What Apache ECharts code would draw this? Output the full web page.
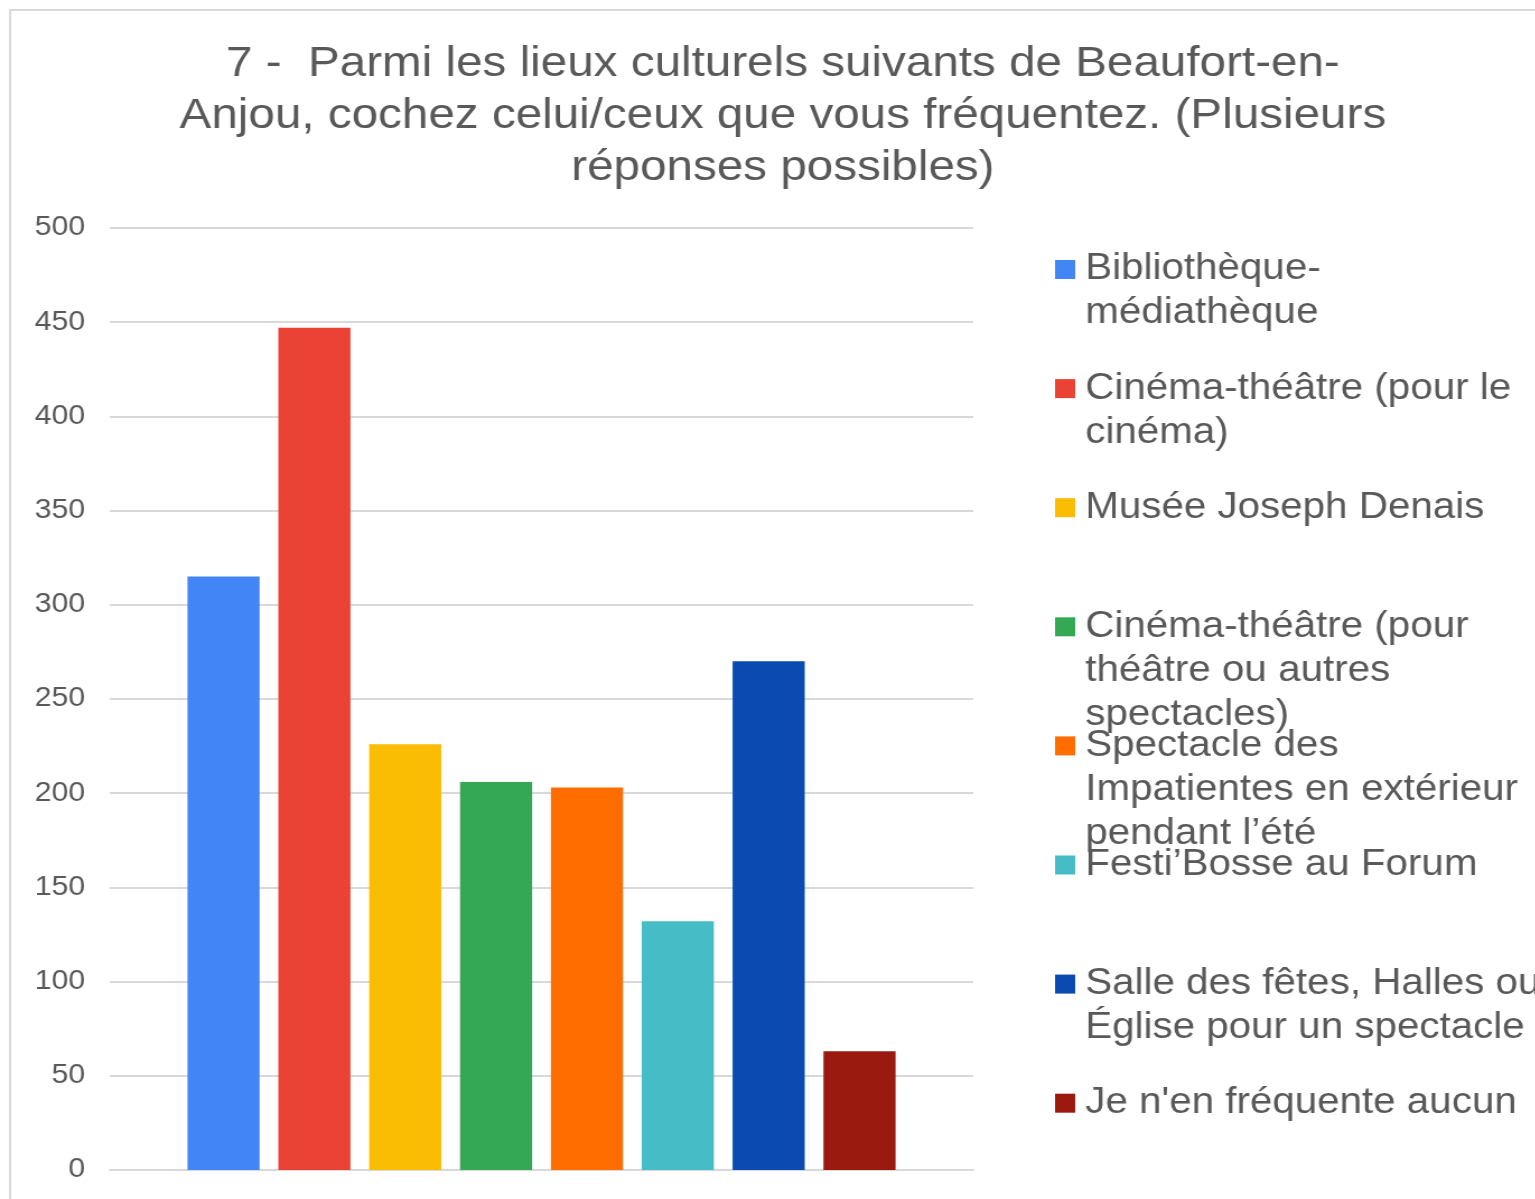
<!DOCTYPE html>
<html>
<head>
<meta charset="utf-8">
<script src="https://cdn.jsdelivr.net/npm/echarts@6/dist/echarts.min.js"></script>
<style>
  html, body { margin: 0; padding: 0; background: #ffffff; overflow: hidden; }
  #chart { width: 1371px; height: 1199px; transform: scaleX(1.12); transform-origin: 0 0; }
</style>
</head>
<body>
<div id="chart"></div>
<script>
// ---- data ----
const titleText = "7 -  Parmi les lieux culturels suivants de Beaufort-en-\nAnjou, cochez celui/ceux que vous fréquentez. (Plusieurs\nréponses possibles)";
const categories = [""];
const seriesNames = [
  "Bibliothèque-médiathèque",
  "Cinéma-théâtre (pour le cinéma)",
  "Musée Joseph Denais",
  "Cinéma-théâtre (pour théâtre ou autres spectacles)",
  "Spectacle des Impatientes en extérieur pendant l’été",
  "Festi’Bosse au Forum",
  "Salle des fêtes, Halles ou Église pour un spectacle",
  "Je n'en fréquente aucun"
];
const legendLabels = [
  "Bibliothèque-\nmédiathèque",
  "Cinéma-théâtre (pour le\ncinéma)",
  "Musée Joseph Denais",
  "Cinéma-théâtre (pour\nthéâtre ou autres\nspectacles)",
  "Spectacle des\nImpatientes en extérieur\npendant l’été",
  "Festi’Bosse au Forum",
  "Salle des fêtes, Halles ou\nÉglise pour un spectacle",
  "Je n'en fréquente aucun"
];
const values = [315, 447, 226, 206, 203, 132, 270, 63];
const colors = ["#4285F4", "#EA4335", "#FBBC04", "#34A853", "#FF6D01", "#46BDC6", "#0B4AB0", "#9A1A10"];
const yMin = 0, yMax = 500, yStep = 50;

// ---- chart ----
const FONT = "'Liberation Sans', Arial, sans-serif";
const TEXT = "#595959";
const GRID = "#d9d9d9";
const LH = 44;

const chart = echarts.init(document.getElementById('chart'));

const series = seriesNames.map((name, i) => ({
  type: 'bar',
  name: name,
  data: [values[i]],
  itemStyle: { color: colors[i] },
  barCategoryGap: '18%',
  barGap: '26%',
  emphasis: { disabled: true }
}));

const legends = seriesNames.map((name, i) => {
  const label = legendLabels[i];
  const n = label.split('\n').length;
  // blank leading lines so the first text line sits level with the icon
  const shown = '\n'.repeat(n - 1) + label;
  const y0 = 269.5 + 119.1 * i;
  return {
    show: true,
    orient: 'vertical',
    left: 942,
    top: y0 - (2 * n - 1) * LH / 2,
    padding: 0,
    itemWidth: 18,
    itemHeight: 19,
    icon: 'rect',
    selectedMode: false,
    data: [name],
    formatter: () => shown,
    textStyle: {
      fontFamily: FONT,
      fontSize: 36,
      color: TEXT,
      lineHeight: LH,
      padding: [0, 0, 0, 4]
    }
  };
});

chart.setOption({
  animation: false,
  backgroundColor: '#ffffff',
  title: {
    text: titleText,
    left: 699,
    top: 38,
    padding: 0,
    textAlign: 'center',
    textStyle: {
      fontFamily: FONT,
      fontSize: 42.5,
      fontWeight: 'normal',
      color: TEXT,
      lineHeight: 52
    }
  },
  graphic: [{
    type: 'rect',
    shape: { x: 9, y: 10, width: 3000, height: 3000 },
    style: { fill: 'none', stroke: GRID, lineWidth: 2 },
    silent: true,
    z: -10
  }],
  legend: legends,
  grid: { left: 98, top: 228, width: 771, height: 942, containLabel: false },
  xAxis: {
    type: 'category',
    data: categories,
    axisLine: { show: true, lineStyle: { color: GRID, width: 2 } },
    axisTick: { show: false },
    axisLabel: { show: false }
  },
  yAxis: {
    type: 'value',
    min: yMin,
    max: yMax,
    interval: yStep,
    axisLine: { show: false },
    axisTick: { show: false },
    axisLabel: { fontFamily: FONT, fontSize: 27, color: TEXT, margin: 22 },
    splitLine: { show: true, lineStyle: { color: GRID, width: 2 } }
  },
  series: series
});
</script>
</body>
</html>
